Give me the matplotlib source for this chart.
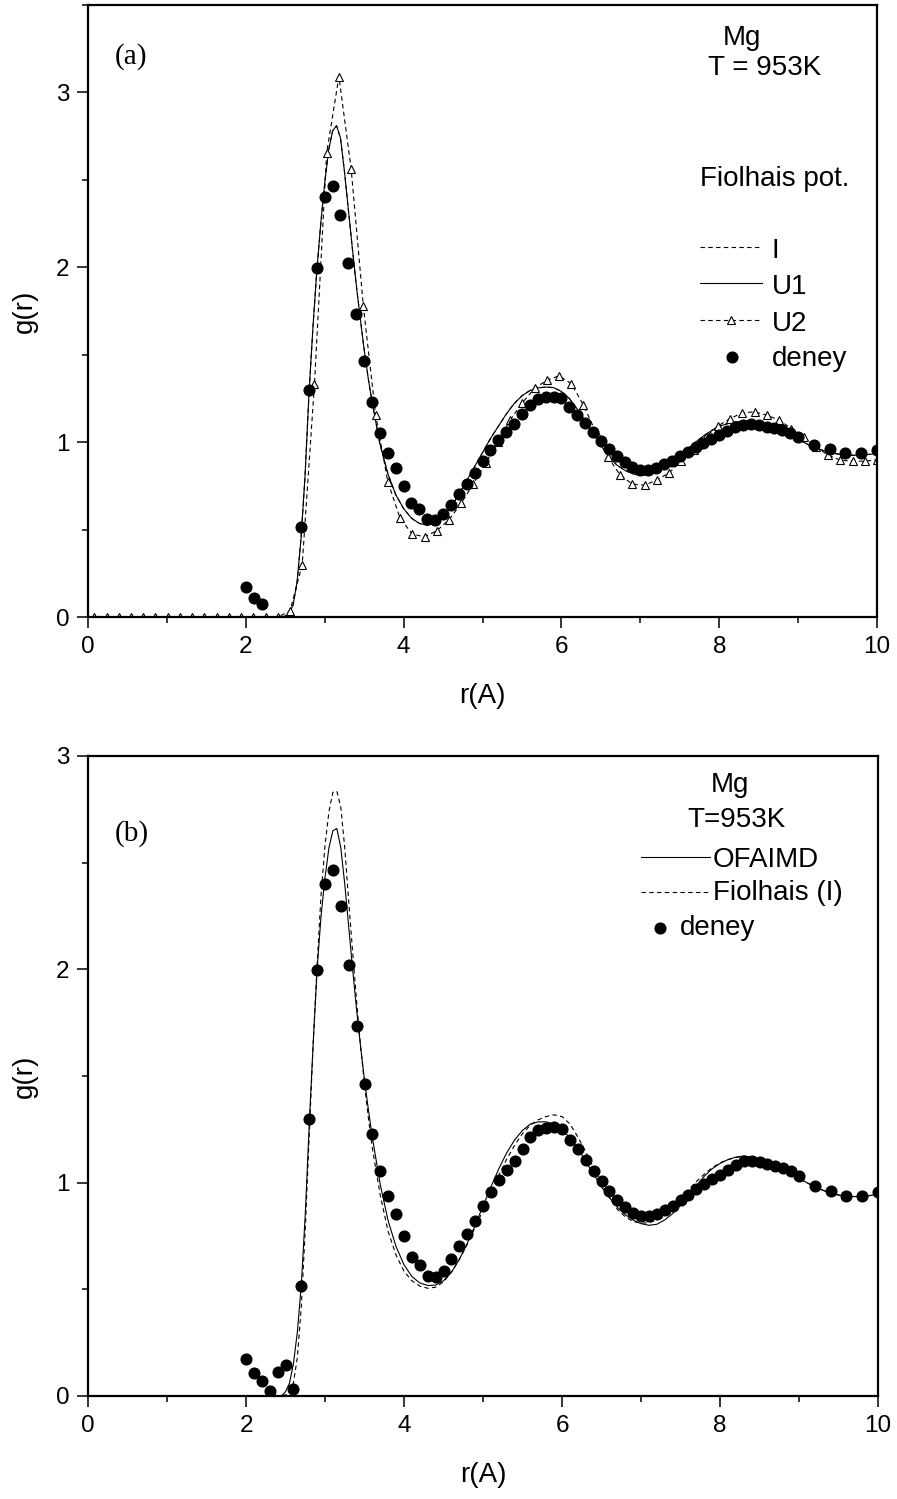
import numpy as np
import matplotlib
matplotlib.use('Agg')
import matplotlib.pyplot as plt
from matplotlib.lines import Line2D
from matplotlib.ticker import MultipleLocator

plt.rcParams['font.family'] = ['Liberation Sans', 'DejaVu Sans']

# ---------------- data ----------------
# experimental points (deney)
deney_r = [2.0, 2.1, 2.2, 2.7, 2.8, 2.9, 3.0, 3.1, 3.2, 3.3, 3.4, 3.5, 3.6, 3.7, 3.8, 3.9,
           4.0, 4.1, 4.2, 4.3, 4.4, 4.5, 4.6, 4.7, 4.8, 4.9, 5.0, 5.1, 5.2, 5.3, 5.4, 5.5,
           5.6, 5.7, 5.8, 5.9, 6.0, 6.1, 6.2, 6.3, 6.4, 6.5, 6.6, 6.7, 6.8, 6.9, 7.0, 7.1,
           7.2, 7.3, 7.4, 7.5, 7.6, 7.7, 7.8, 7.9, 8.0, 8.1, 8.2, 8.3, 8.4, 8.5, 8.6, 8.7,
           8.8, 8.9, 9.0, 9.2, 9.4, 9.6, 9.8, 10.0]
deney_g = [0.172, 0.11, 0.072, 0.516, 1.30, 1.997, 2.40, 2.466, 2.297, 2.022, 1.734, 1.463,
           1.229, 1.053, 0.939, 0.851, 0.75, 0.652, 0.616, 0.562, 0.557, 0.588, 0.642, 0.701,
           0.759, 0.822, 0.892, 0.955, 1.011, 1.058, 1.103, 1.160, 1.213, 1.249, 1.257, 1.260,
           1.253, 1.202, 1.158, 1.108, 1.056, 1.009, 0.962, 0.920, 0.884, 0.858, 0.842, 0.842,
           0.854, 0.873, 0.892, 0.920, 0.944, 0.972, 0.994, 1.017, 1.038, 1.061, 1.085, 1.100,
           1.103, 1.097, 1.088, 1.080, 1.069, 1.053, 1.030, 0.986, 0.959, 0.936, 0.936, 0.955]
# extra low-r experimental points shown only in panel (b)
deney_low_r_b = [2.3, 2.4, 2.5, 2.6]
deney_low_g_b = [0.023, 0.114, 0.146, 0.033]

# common r grid of the simulated curves
curve_r = [0.0, 2.40, 2.45, 2.50, 2.55, 2.60, 2.65, 2.70, 2.75, 2.80, 2.85, 2.90, 2.95, 3.00,
           3.05, 3.10, 3.15, 3.20, 3.25, 3.30, 3.35, 3.40, 3.45, 3.50, 3.55, 3.60,
           3.7, 3.8, 3.9, 4.0, 4.1, 4.2, 4.3, 4.4, 4.5, 4.6, 4.7, 4.8, 4.9, 5.0, 5.1, 5.2,
           5.3, 5.4, 5.5, 5.6, 5.7, 5.8, 5.9, 6.0, 6.1, 6.2, 6.3, 6.4, 6.5, 6.6, 6.7, 6.8,
           6.9, 7.0, 7.1, 7.2, 7.3, 7.4, 7.5, 7.6, 7.7, 7.8, 7.9, 8.0, 8.1, 8.2, 8.3, 8.4,
           8.5, 8.6, 8.7, 8.8, 8.9, 9.0, 9.2, 9.4, 9.6, 9.8, 10.0]

# panel (a): Fiolhais pot. U1 (solid)
u1_g = [0.0, 0.0, 0.0, 0.005, 0.02, 0.07, 0.2, 0.45, 0.8, 1.27, 1.65, 1.98, 2.25, 2.48,
        2.67, 2.78, 2.81, 2.74, 2.55, 2.33, 2.11, 1.90, 1.71, 1.53, 1.37, 1.23,
        0.99, 0.82, 0.70, 0.62, 0.565, 0.535, 0.525, 0.535, 0.57, 0.63, 0.70, 0.78, 0.86,
        0.94, 1.02, 1.09, 1.16, 1.22, 1.265, 1.295, 1.31, 1.315, 1.312, 1.29, 1.25, 1.19,
        1.12, 1.05, 0.98, 0.92, 0.87, 0.84, 0.82, 0.81, 0.812, 0.825, 0.85, 0.88, 0.92,
        0.96, 1.0, 1.035, 1.065, 1.09, 1.105, 1.115, 1.12, 1.12, 1.115, 1.10, 1.085, 1.065,
        1.04, 1.015, 0.97, 0.94, 0.925, 0.925, 0.935]
# panel (a): Fiolhais pot. I (dashed) - practically overlaps U1
i_g = [0.0, 0.0, 0.0, 0.005, 0.02, 0.07, 0.2, 0.45, 0.8, 1.27, 1.65, 1.98, 2.25, 2.48,
       2.67, 2.78, 2.81, 2.74, 2.55, 2.33, 2.11, 1.90, 1.71, 1.53, 1.37, 1.23,
       0.99, 0.82, 0.70, 0.62, 0.565, 0.535, 0.525, 0.535, 0.57, 0.63, 0.70, 0.78, 0.86,
       0.94, 1.02, 1.09, 1.16, 1.22, 1.265, 1.295, 1.31, 1.315, 1.312, 1.29, 1.25, 1.19,
       1.12, 1.05, 0.98, 0.92, 0.87, 0.84, 0.82, 0.81, 0.812, 0.825, 0.85, 0.88, 0.92,
       0.96, 1.0, 1.035, 1.065, 1.09, 1.105, 1.115, 1.12, 1.12, 1.115, 1.10, 1.085, 1.065,
       1.04, 1.015, 0.97, 0.94, 0.925, 0.925, 0.935]

# panel (a): Fiolhais pot. U2 (dashed + open triangles)
u2_r = np.round(np.linspace(0.08, 10.0, 65), 3)
u2_g = [0.0] * 16 + [
    0.034, 0.30, 1.33, 2.655, 3.09, 2.564, 1.777, 1.158, 0.773, 0.565, 0.474, 0.459,
    0.493, 0.556, 0.650, 0.762, 0.880, 1.002, 1.126, 1.225, 1.307, 1.354, 1.379, 1.335,
    1.211, 1.059, 0.916, 0.811, 0.760, 0.754, 0.783, 0.825, 0.891, 0.955, 1.030, 1.093,
    1.135, 1.168, 1.173, 1.154, 1.126, 1.078, 1.027, 0.973, 0.926, 0.897, 0.891, 0.891,
    0.90]

# panel (b): OFAIMD (solid)
ofaimd_g = [0.0, 0.0, 0.0, 0.02, 0.06, 0.15, 0.30, 0.52, 0.85, 1.27, 1.65, 2.0, 2.25, 2.43,
            2.57, 2.65, 2.66, 2.57, 2.40, 2.20, 2.00, 1.81, 1.64, 1.48, 1.34, 1.21,
            0.99, 0.82, 0.70, 0.615, 0.56, 0.53, 0.518, 0.52, 0.54, 0.58, 0.64, 0.715, 0.80,
            0.89, 0.98, 1.065, 1.14, 1.20, 1.245, 1.275, 1.285, 1.285, 1.275, 1.25, 1.21,
            1.16, 1.10, 1.04, 0.98, 0.93, 0.885, 0.85, 0.825, 0.808, 0.80, 0.805, 0.825,
            0.855, 0.895, 0.94, 0.985, 1.03, 1.065, 1.09, 1.108, 1.12, 1.125, 1.12, 1.11,
            1.095, 1.08, 1.06, 1.04, 1.02, 0.98, 0.95, 0.935, 0.935, 0.945]
# panel (b): Fiolhais (I) (dashed)
fiolhais_g = [0.0, 0.0, 0.0, 0.005, 0.02, 0.06, 0.18, 0.42, 0.78, 1.22, 1.65, 2.02, 2.35,
              2.58, 2.74, 2.83, 2.835, 2.76, 2.57, 2.32, 2.08, 1.85, 1.64, 1.46, 1.30, 1.16,
              0.94, 0.77, 0.66, 0.585, 0.54, 0.515, 0.505, 0.51, 0.535, 0.58, 0.64, 0.71,
              0.79, 0.87, 0.955, 1.035, 1.11, 1.175, 1.23, 1.27, 1.295, 1.31, 1.318, 1.31,
              1.275, 1.215, 1.145, 1.07, 0.995, 0.93, 0.875, 0.84, 0.818, 0.81, 0.812, 0.825,
              0.85, 0.885, 0.925, 0.965, 1.005, 1.04, 1.07, 1.093, 1.108, 1.118, 1.122,
              1.118, 1.108, 1.095, 1.078, 1.06, 1.04, 1.02, 0.98, 0.95, 0.935, 0.935, 0.945]

xticks = [0, 2, 4, 6, 8, 10]
yticks = [0, 1, 2, 3]

# ---------------- figure ----------------
W, H = 897, 1499
fig = plt.figure(figsize=(W / 100, H / 100), dpi=100)


def fx(x):
    return x / W


def fy(y):
    return 1 - y / H


ax_a = fig.add_axes([fx(88), fy(617), fx(877) - fx(88), fy(5) - fy(617)])
ax_b = fig.add_axes([fx(88), fy(1396), fx(878) - fx(88), fy(756) - fy(1396)])

LW = 0.8
DASH = (0, (4, 3))
dot_kw = dict(linestyle='none', marker='o', markersize=7.7, color='black')
tri_kw = dict(marker='^', markersize=6.2, markerfacecolor='white',
              markeredgecolor='black', markeredgewidth=0.8)

# panel (a)
ax_a.plot(curve_r, i_g, color='black', lw=LW, linestyle=DASH)
ax_a.plot(curve_r, u1_g, color='black', lw=LW)
ax_a.plot(u2_r, u2_g, color='black', lw=LW, linestyle=DASH, **tri_kw)
ax_a.plot(deney_r, deney_g, **dot_kw)
ax_a.set_ylim(0, 3.5)

# panel (b)
ax_b.plot(curve_r, ofaimd_g, color='black', lw=LW)
ax_b.plot(curve_r, fiolhais_g, color='black', lw=LW, linestyle=DASH)
ax_b.plot(deney_r, deney_g, **dot_kw)
ax_b.plot(deney_low_r_b, deney_low_g_b, **dot_kw)
ax_b.set_ylim(0, 3)

for ax in (ax_a, ax_b):
    ax.set_xlim(0, 10)
    ax.set_xticks(xticks)
    ax.set_yticks(yticks)
    ax.xaxis.set_minor_locator(MultipleLocator(1))
    ax.yaxis.set_minor_locator(MultipleLocator(0.5))
    ax.tick_params(which='major', direction='out', length=8, width=1.1,
                   labelsize=17.5, pad=5.5, top=False, right=False)
    ax.tick_params(which='minor', direction='out', length=4.3, width=1.1,
                   top=False, right=False)
    for s in ax.spines.values():
        s.set_linewidth(1.6)
    ax.set_xlabel('r(A)', fontsize=20, labelpad=18)
    ax.set_ylabel('g(r)', fontsize=20, labelpad=13)

# ---------------- annotations / legends ----------------
serif = ['Liberation Serif', 'DejaVu Serif']
fig.text(fx(131), fy(57), '(a)', family=serif, fontsize=21, ha='center', va='center')
fig.text(fx(742), fy(45), 'Mg', fontsize=20, ha='center', va='baseline')
fig.text(fx(765), fy(75), 'T = 953K', fontsize=20, ha='center', va='baseline')
fig.text(fx(700), fy(186), 'Fiolhais pot.', fontsize=20, ha='left', va='baseline')


def leg_line(x0, x1, y, **kw):
    fig.add_artist(Line2D([fx(x0), fx(x1)], [fy(y), fy(y)], transform=fig.transFigure,
                          color='black', lw=LW, **kw))


def leg_marker(x, y, **kw):
    fig.add_artist(Line2D([fx(x)], [fy(y)], transform=fig.transFigure, **kw))


# legend (a)
leg_line(700, 762, 247, linestyle=DASH)
fig.text(fx(772), fy(258), 'I', fontsize=20, ha='left', va='baseline')
leg_line(700, 762, 283)
fig.text(fx(772), fy(294), 'U1', fontsize=20, ha='left', va='baseline')
leg_line(700, 762, 320, linestyle=DASH)
leg_marker(731, 320, linestyle='none', **tri_kw)
fig.text(fx(772), fy(331), 'U2', fontsize=20, ha='left', va='baseline')
leg_marker(732, 357, **dot_kw)
fig.text(fx(772), fy(366), 'deney', fontsize=20, ha='left', va='baseline')

# panel (b) texts
fig.text(fx(132), fy(834), '(b)', family=serif, fontsize=21, ha='center', va='center')
fig.text(fx(730), fy(792), 'Mg', fontsize=20, ha='center', va='baseline')
fig.text(fx(736), fy(827), 'T=953K', fontsize=20, ha='center', va='baseline')
leg_line(641, 710, 857)
fig.text(fx(713), fy(867), 'OFAIMD', fontsize=20, ha='left', va='baseline')
leg_line(641, 709, 892, linestyle=DASH)
fig.text(fx(713), fy(900), 'Fiolhais (I)', fontsize=20, ha='left', va='baseline')
leg_marker(660, 928, **dot_kw)
fig.text(fx(680), fy(935), 'deney', fontsize=20, ha='left', va='baseline')

fig.savefig('out.png', dpi=100)
